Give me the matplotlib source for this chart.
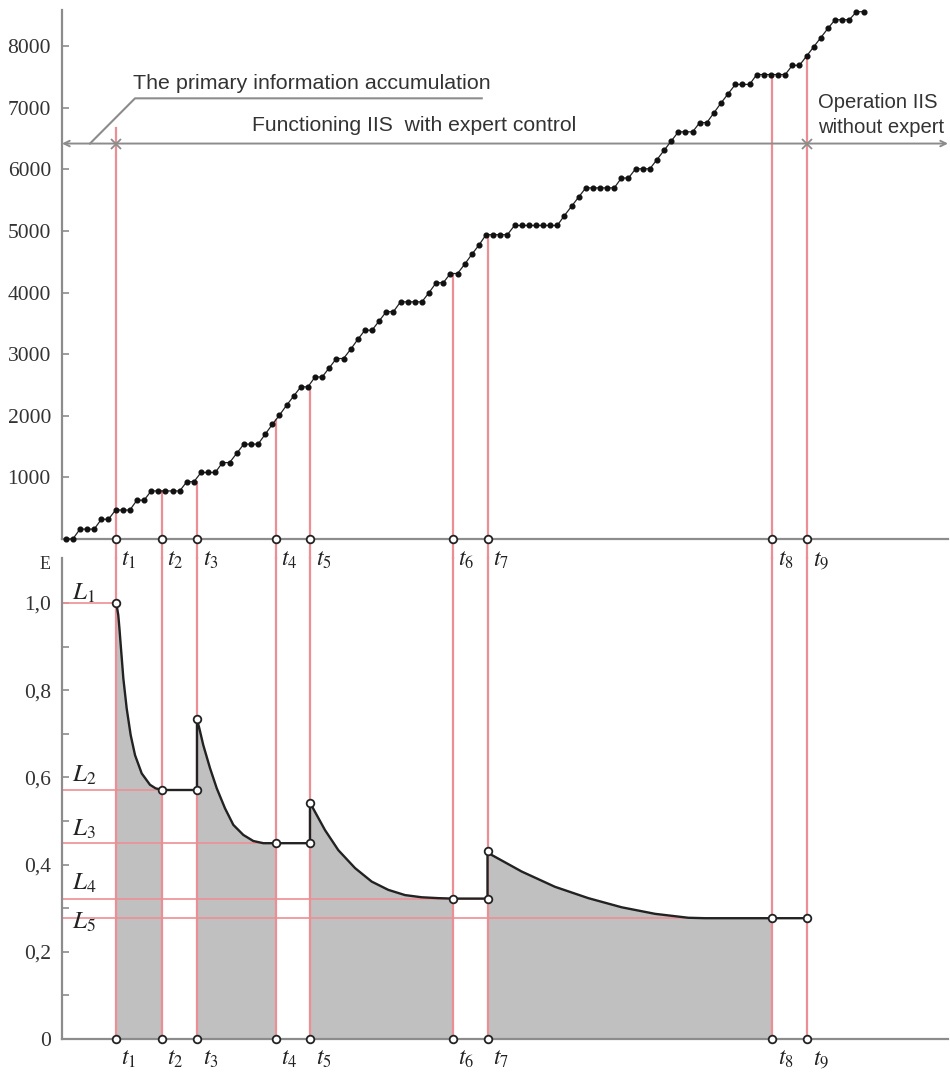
import numpy as np
import matplotlib.pyplot as plt

plt.rcParams['mathtext.fontset'] = 'stix'

# accumulated information (one dot per step)
stair_y = [0, 0, 160, 160, 160, 320, 320, 470, 470, 470,
           630, 630, 780, 780, 780, 780, 780, 930, 930, 1080,
           1080, 1080, 1240, 1240, 1390, 1540, 1540, 1540, 1700, 1860,
           2010, 2170, 2320, 2470, 2470, 2630, 2630, 2780, 2930, 2930,
           3080, 3240, 3390, 3390, 3540, 3690, 3690, 3850, 3850, 3850,
           3850, 4000, 4160, 4160, 4310, 4310, 4460, 4620, 4770, 4940,
           4940, 4940, 4940, 5090, 5090, 5090, 5090, 5090, 5090, 5090,
           5250, 5400, 5550, 5700, 5700, 5700, 5700, 5700, 5860, 5860,
           6010, 6010, 6010, 6160, 6310, 6460, 6610, 6610, 6610, 6760,
           6760, 6920, 7080, 7230, 7380, 7380, 7380, 7540, 7540, 7540,
           7540, 7540, 7690, 7690, 7840, 7990, 8140, 8290, 8430, 8430,
           8430, 8560, 8560]

# moments t1..t9 and where their lines stop in the upper chart
t_pos = [7.05, 13.5, 18.43, 29.45, 34.29, 54.3, 59.21, 99.14, 104.1]
t_top = [6670, 780, 930, 1930, 2470, 4310, 4940, 7540, 7840]
band_y = 6420

# error levels L1..L5
level_e = [1.0, 0.571, 0.449, 0.322, 0.277]
level_end = [7.05, 13.5, 29.45, 59.21, 89.5]
level_base = [1.007, 0.590, 0.466, 0.342, 0.252]

# error curve segments
seg1_x = [7.05, 7.2, 7.38, 7.55, 7.72, 8.09, 8.56, 9.12, 9.73, 10.67, 11.83, 12.6, 13.5]
seg1_e = [1.0, 0.99, 0.972, 0.94, 0.904, 0.827, 0.758, 0.697, 0.651, 0.609, 0.583, 0.575, 0.571]
seg2_x = [18.43, 18.43, 18.75, 19.31, 20.26, 21.2, 22.36, 23.53, 24.93, 26.34, 27.74, 29.45]
seg2_e = [0.571, 0.733, 0.713, 0.674, 0.621, 0.575, 0.529, 0.491, 0.468, 0.454, 0.449, 0.449]
seg3_x = [34.29, 34.29, 34.99, 36.4, 38.27, 40.61, 42.95, 45.28, 47.63, 49.97, 52.3, 54.3]
seg3_e = [0.449, 0.542, 0.521, 0.479, 0.433, 0.392, 0.361, 0.342, 0.330, 0.325, 0.323, 0.322]
seg4_x = [59.21, 59.21, 59.8, 64.01, 68.68, 73.36, 78.05, 82.73, 87.39, 89.73, 99.14]
seg4_e = [0.322, 0.432, 0.422, 0.384, 0.349, 0.323, 0.302, 0.287, 0.278, 0.277, 0.277]
tail_x = [104.1]
tail_e = [0.277]

top_ticks = [1000, 2000, 3000, 4000, 5000, 6000, 7000, 8000]
bot_ticks = [0, 0.2, 0.4, 0.6, 0.8, 1.0]
bot_labels = ['0', '0,2', '0,4', '0,6', '0,8', '1,0']
bot_minor = [0.1, 0.3, 0.5, 0.7, 0.9]

W, H = 950, 1072
grey = '#8c8c8c'
red = '#ec8f95'
ink = '#222222'
xlim = (-0.52, 123.85)

fig = plt.figure(figsize=(W / 100, H / 100), dpi=100)
ax_top = fig.add_axes([62 / W, 1 - 539 / H, (948 - 62) / W, (539 - 10) / H])
ax_bot = fig.add_axes([62 / W, 1 - 1039 / H, (948 - 62) / W, (1039 - 558) / H])
ax_bot.patch.set_visible(False)
ax_top.patch.set_visible(False)

for ax in (ax_top, ax_bot):
    ax.set_xlim(*xlim)
    ax.spines[['top', 'right']].set_visible(False)
    for s in ('left', 'bottom'):
        ax.spines[s].set_color(grey)
        ax.spines[s].set_linewidth(1.6)
    ax.set_xticks([])
    ax.tick_params(axis='y', which='both', direction='in', length=5, width=1.2,
                   color=grey, labelcolor='#333333', pad=8)

# ---- upper chart ----
ax_top.set_ylim(0, 8588)
ax_top.set_yticks(top_ticks, labels=[str(v) for v in top_ticks],
                  fontfamily='Liberation Serif', fontsize=15.5)

x = np.arange(len(stair_y))
ax_top.plot(x, stair_y, '-', color=ink, lw=0.9, marker='o', ms=3.4,
            mfc='#111111', mec='#111111', zorder=4, clip_on=False)

for t, top in zip(t_pos, t_top):
    ax_top.plot([t, t], [-310, top], color=red, lw=1.6, zorder=2, clip_on=False)
ax_top.plot(t_pos, [0] * len(t_pos), 'o', mfc='white', mec=ink, ms=5.5, mew=1.3,
            zorder=5, clip_on=False)
for i, t in enumerate(t_pos):
    ax_top.annotate(f'$t_{{{i + 1}}}$', (t, 0), xytext=(4, -6), textcoords='offset points',
                    ha='left', va='top', fontsize=17, color=ink, annotation_clip=False)

ax_top.annotate('', xy=(xlim[0], band_y), xytext=(xlim[1], band_y),
                arrowprops=dict(arrowstyle='<->', color=grey, lw=1.4, shrinkA=0, shrinkB=0,
                                mutation_scale=10), annotation_clip=False)
ax_top.plot([t_pos[0], t_pos[-1]], [band_y, band_y], 'x', color=grey, ms=7, mew=1.3, zorder=5)
ax_top.plot([3.41, 9.73, 58.4], [band_y, 7154, 7154], color=grey, lw=1.5)

ax_top.text(9.45, 7305, 'The primary information accumulation', fontsize=15.4,
            fontfamily='Liberation Sans', color='#333333', va='baseline')
ax_top.text(26.1, 6623, 'Functioning IIS  with expert control', fontsize=15.2,
            fontfamily='Liberation Sans', color='#333333', va='baseline')
ax_top.text(105.6, 6997, 'Operation IIS', fontsize=14.6,
            fontfamily='Liberation Sans', color='#333333', va='baseline')
ax_top.text(105.6, 6591, 'without expert', fontsize=14.6,
            fontfamily='Liberation Sans', color='#333333', va='baseline')

# ---- lower chart ----
ax_bot.set_ylim(0, 1.103)
ax_bot.set_yticks(bot_ticks, labels=bot_labels, fontfamily='Liberation Serif', fontsize=15.5)
ax_bot.set_yticks(bot_minor, minor=True)

segs = [(seg1_x, seg1_e), (seg2_x, seg2_e), (seg3_x, seg3_e), (seg4_x, seg4_e)]
for sx, se in segs:
    ax_bot.fill_between(sx, se, 0, color='#c0c0c0', lw=0, zorder=1)

for t in t_pos:
    ax_bot.plot([t, t], [0, 1.103], color=red, lw=1.6, zorder=2, clip_on=False)
for e, end in zip(level_e, level_end):
    ax_bot.plot([xlim[0], end], [e, e], color=red, lw=1.2, zorder=2)

cx = seg1_x + seg2_x + seg3_x + seg4_x + tail_x
ce = seg1_e + seg2_e + seg3_e + seg4_e + tail_e
ax_bot.plot(cx, ce, color=ink, lw=1.7, zorder=3)

kx, ke = [], []
for sx, se in segs:
    for j in range(len(sx)):
        if sx[j] == sx[0] or j == len(sx) - 1:
            kx.append(sx[j])
            ke.append(se[j])
kx += tail_x
ke += tail_e
ax_bot.plot(kx, ke, 'o', mfc='white', mec=ink, ms=5.5, mew=1.3, zorder=5)
ax_bot.plot(t_pos, [0] * len(t_pos), 'o', mfc='white', mec=ink, ms=5.5, mew=1.3,
            zorder=5, clip_on=False)

for i, t in enumerate(t_pos):
    ax_bot.annotate(f'$t_{{{i + 1}}}$', (t, 0), xytext=(4, -5), textcoords='offset points',
                    ha='left', va='top', fontsize=17, color=ink, annotation_clip=False)
for i, b in enumerate(level_base):
    ax_bot.text(0.88, b, f'$L_{{{i + 1}}}$', fontsize=18, color=ink, va='baseline')

ax_bot.text(-2.9, 1.087, 'E', ha='center', va='center', fontfamily='Liberation Serif',
            fontsize=13, color='#333333', clip_on=False)

fig.savefig('out.png', dpi=100)
